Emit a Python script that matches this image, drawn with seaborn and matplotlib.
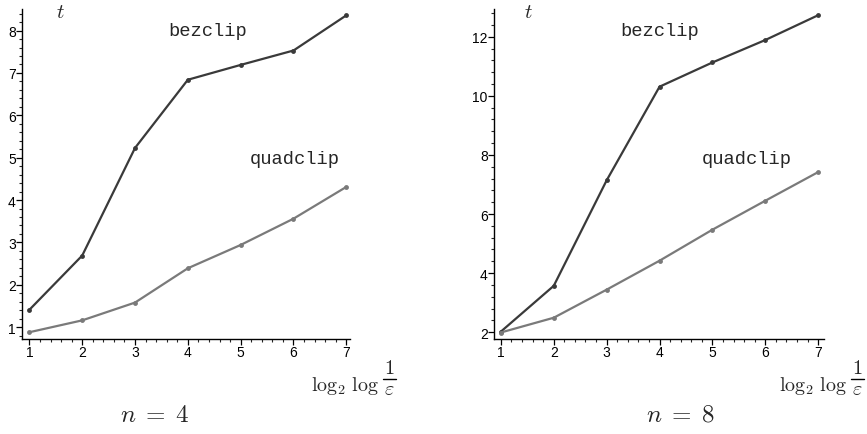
import numpy as np
import pandas as pd
import matplotlib
matplotlib.use("Agg")
import matplotlib.pyplot as plt
from matplotlib.ticker import MultipleLocator
from matplotlib.lines import Line2D
import seaborn as sns

x_vals = [1, 2, 3, 4, 5, 6, 7]
bez_n4 = [1.41, 2.69, 5.23, 6.84, 7.19, 7.53, 8.36]
quad_n4 = [0.88, 1.16, 1.58, 2.39, 2.94, 3.56, 4.31]
bez_n8 = [2.02, 3.57, 7.14, 10.31, 11.13, 11.89, 12.73]
quad_n8 = [1.99, 2.49, 3.44, 4.42, 5.47, 6.45, 7.42]
panel_titles = [r"$n \;=\; 4$", r"$n \;=\; 8$"]

sns.set_style("ticks")
plt.rcParams["font.family"] = ["Liberation Sans", "DejaVu Sans"]
plt.rcParams["mathtext.fontset"] = "cm"

W, H = 867, 435
fig = plt.figure(figsize=(W / 100, H / 100), dpi=100)

def fx(px):
    return px / W

def fy(py):
    return 1 - py / H

BEZ_C = "#3a3a3a"
QUAD_C = "#7a7a7a"
MONO = ["Liberation Mono", "DejaVu Sans Mono"]

panels = [
    dict(bez=bez_n4, quad=quad_n4, x0=22, x1=350, xlim=(0.86, 7.07), ylim=(0.72, 8.51),
         major=1, minor=0.2, title=panel_titles[0], off=0, toff=0),
    dict(bez=bez_n8, quad=quad_n8, x0=494, x1=824, xlim=(0.87, 7.11), ylim=(1.77, 12.94),
         major=2, minor=0.4, title=panel_titles[1], off=468, toff=452),
]

for p in panels:
    ax = fig.add_axes([fx(p["x0"]), fy(340), fx(p["x1"] - p["x0"]), (340 - 10) / H])
    df = pd.DataFrame({
        "x": x_vals * 2,
        "t": p["bez"] + p["quad"],
        "alg": ["bezclip"] * 7 + ["quadclip"] * 7,
    })
    sns.lineplot(data=df, x="x", y="t", hue="alg", palette={"bezclip": BEZ_C, "quadclip": QUAD_C},
                 marker="o", markersize=3.5, markeredgewidth=0, linewidth=1.6, ax=ax, legend=False)
    ax.set_xlim(*p["xlim"])
    ax.set_ylim(*p["ylim"])
    ax.xaxis.set_major_locator(MultipleLocator(1))
    ax.xaxis.set_minor_locator(MultipleLocator(0.2))
    ax.yaxis.set_major_locator(MultipleLocator(p["major"]))
    ax.yaxis.set_minor_locator(MultipleLocator(p["minor"]))
    sns.despine(ax=ax)
    for s in ["left", "bottom"]:
        ax.spines[s].set_linewidth(1.0)
        ax.spines[s].set_color("black")
    ax.tick_params(which="major", direction="out", length=4, width=0.9, labelsize=10, pad=0.5, colors="black")
    ax.tick_params(which="minor", direction="out", length=2, width=0.8)
    ax.set_xlabel("")
    ax.set_ylabel("")
    off, toff = p["off"], p["toff"]
    fig.text(fx(60 + (toff + 16 if off else 0)), fy(13), r"$t$", fontsize=15, ha="center", va="center")
    fig.text(fx(208 + toff), fy(31), "bezclip", family=MONO, fontsize=13.5, ha="center", va="center")
    fig.text(fx(295 + toff), fy(160), "quadclip", family=MONO, fontsize=13.5, ha="center", va="center")
    # x-axis label: log_2 log 1/eps (fraction built from parts)
    fig.text(fx(311 + off), fy(386), r"$\log_2 \,\log$", fontsize=14.5, ha="left", va="center")
    fig.text(fx(389 + off), fy(369), r"$1$", fontsize=14.5, ha="center", va="center")
    fig.text(fx(389 + off), fy(390), r"$\varepsilon$", fontsize=14.5, ha="center", va="center")
    fig.add_artist(Line2D([fx(383 + off), fx(396 + off)], [fy(380), fy(380)], color="black",
                          linewidth=1.0, transform=fig.transFigure))
    fig.text(fx(155 + (525 if off else 0)), fy(415), p["title"], fontsize=18, ha="center", va="center")

fig.savefig("out.png", dpi=100)
